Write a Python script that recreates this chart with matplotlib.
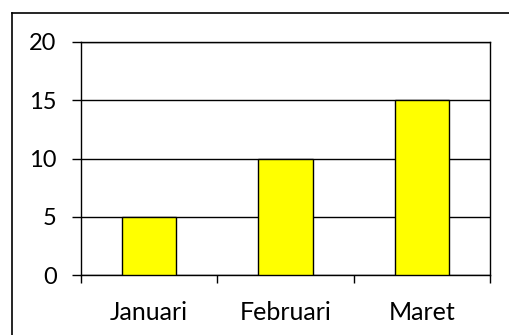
import matplotlib
matplotlib.use("Agg")
import matplotlib.pyplot as plt
from matplotlib.lines import Line2D
import numpy as np

months = ["Januari", "Februari", "Maret"]
values = [5, 10, 15]
yticks = [0, 5, 10, 15, 20]

plt.rcParams["font.family"] = ["Lato", "DejaVu Sans"]

W, H = 509, 335
fig = plt.figure(figsize=(W / 100, H / 100), dpi=100)
ax = fig.add_axes([81 / W, 1 - 275 / H, (490 - 81) / W, (275 - 42) / H])

x = np.arange(len(months))
ax.bar(x, values, width=0.4, color="#FFFF00", edgecolor="black", linewidth=1.0, zorder=3)

ax.set_xlim(-0.5, len(months) - 0.5)
ax.set_ylim(0, 20)
ax.set_yticks(yticks)
ax.yaxis.grid(True, color="black", linewidth=1.0, zorder=0)
ax.set_axisbelow(True)

# category labels centred, tick marks on the boundaries
ax.set_xticks(x)
ax.set_xticklabels(months)
ax.set_xticks(np.arange(len(months) + 1) - 0.5, minor=True)
ax.tick_params(axis="x", which="major", length=0, pad=19, labelsize=18)
ax.tick_params(axis="x", which="minor", length=6, width=1.0, direction="out")
ax.tick_params(axis="y", length=6.5, width=1.0, pad=11, labelsize=17)

for s in ax.spines.values():
    s.set_linewidth(1.0)
    s.set_color("black")

# chart-area border (top and left edges)
fig.add_artist(Line2D([12 / W, 12 / W], [0, 1 - 12.5 / H], color="black", lw=1.2,
                      transform=fig.transFigure))
fig.add_artist(Line2D([12 / W, 1], [1 - 12.5 / H, 1 - 12.5 / H], color="black", lw=1.2,
                      transform=fig.transFigure))

fig.savefig("out.png", dpi=100)
